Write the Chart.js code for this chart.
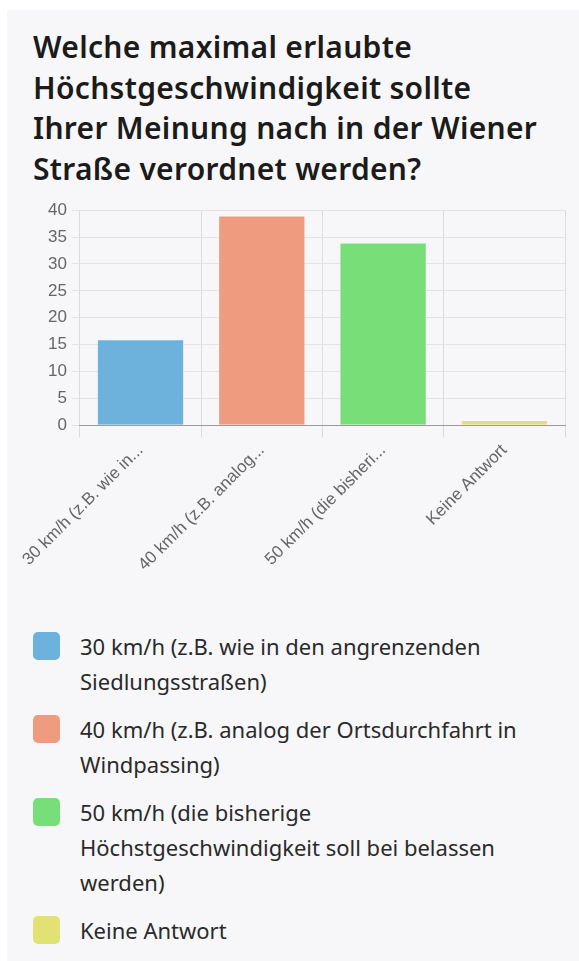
<!DOCTYPE html>
<html>
<head>
<meta charset="utf-8">
<script src="https://cdn.jsdelivr.net/npm/chart.js@4.4.1/dist/chart.umd.min.js"></script>
<style>
  html, body { margin: 0; padding: 0; background: #ffffff; }
  body { width: 579px; height: 961px; position: relative; overflow: hidden; }
  .panel { position: absolute; left: 7px; top: 10px; right: 0; bottom: 0; background: #f7f7f9; }
  h1 {
    position: absolute; left: 33px; top: 27px; margin: 0; width: 546px; white-space: nowrap;
    font-family: "Noto Sans", sans-serif; font-weight: 600; font-size: 30px; letter-spacing: 0.3px;
    line-height: 40.5px; color: #1b1b1b;
  }
  .chart-box { position: absolute; left: 18px; top: 195px; width: 554px; height: 383px; }
  ul.legend {
    position: absolute; left: 33px; top: 629px; width: 495px; margin: 0; padding: 0; list-style: none;
    font-family: "Noto Sans", sans-serif; font-size: 22px; line-height: 35px; color: #2a2a2a;
  }
  ul.legend li { position: relative; padding-left: 47px; margin-bottom: 13px; }
  ul.legend li span.box {
    position: absolute; left: 0; top: 3px; width: 27px; height: 28px; border-radius: 5px;
  }
</style>
</head>
<body>
<div class="panel"></div>
<h1>Welche maximal erlaubte<br>Höchstgeschwindigkeit sollte<br>Ihrer Meinung nach in der Wiener<br>Straße verordnet werden?</h1>
<div class="chart-box"><canvas id="chart"></canvas></div>
<ul class="legend" id="legend"></ul>
<script>
const categories = [
  "30 km/h (z.B. wie in den angrenzenden Siedlungsstraßen)",
  "40 km/h (z.B. analog der Ortsdurchfahrt in Windpassing)",
  "50 km/h (die bisherige Höchstgeschwindigkeit soll bei belassen werden)",
  "Keine Antwort",
];
const votes = [16, 39, 34, 1];
const barColors = ["#6db1dd", "#ef9b80", "#78de78", "#e2e274"];
const yTicks = [0, 5, 10, 15, 20, 25, 30, 35, 40];

function main() {
  buildLegend();
  drawChart();
}

function shortLabel(text) {
  return text.length > 20 ? text.slice(0, 20) + "..." : text;
}

function buildLegend() {
  const list = document.getElementById("legend");
  categories.forEach((cat, i) => {
    const li = document.createElement("li");
    const box = document.createElement("span");
    box.className = "box";
    box.style.background = barColors[i];
    li.appendChild(box);
    li.appendChild(document.createTextNode(cat));
    list.appendChild(li);
  });
}

function drawChart() {
  const canvas = document.getElementById("chart");
  new Chart(canvas, {
    type: "bar",
    data: {
      labels: categories,
      datasets: [
        {
          data: votes,
          backgroundColor: barColors,
          borderColor: "rgba(255,255,255,0.35)",
          borderWidth: 1,
        },
      ],
    },
    options: {
      responsive: true,
      maintainAspectRatio: false,
      animation: false,
      layout: { padding: { left: 0, right: 7, top: 3, bottom: 0 } },
      scales: {
        x: {
          grid: {
            color: (ctx) => (ctx.index === categories.length ? "rgba(0,0,0,0)" : "#dcdcdc"),
            tickLength: 12,
          },
          border: { color: "#9a9a9a" },
          ticks: {
            color: "#666",
            font: { family: "'Liberation Sans', Arial", size: 17 },
            maxRotation: 45,
            minRotation: 45,
            callback: function (value) {
              return shortLabel(this.getLabelForValue(value));
            },
          },
        },
        y: {
          min: yTicks[0],
          max: yTicks[yTicks.length - 1],
          grid: { color: "#e3e3e5", tickLength: 8 },
          border: { display: false },
          afterBuildTicks: (axis) => {
            axis.ticks = yTicks.map((v) => ({ value: v }));
          },
          ticks: {
            color: "#666",
            padding: 5,
            font: { family: "'Liberation Sans', Arial", size: 17 },
          },
        },
      },
      plugins: {
        legend: { display: false },
        tooltip: { enabled: false },
      },
    },
  });
}

main();
</script>
</body>
</html>
